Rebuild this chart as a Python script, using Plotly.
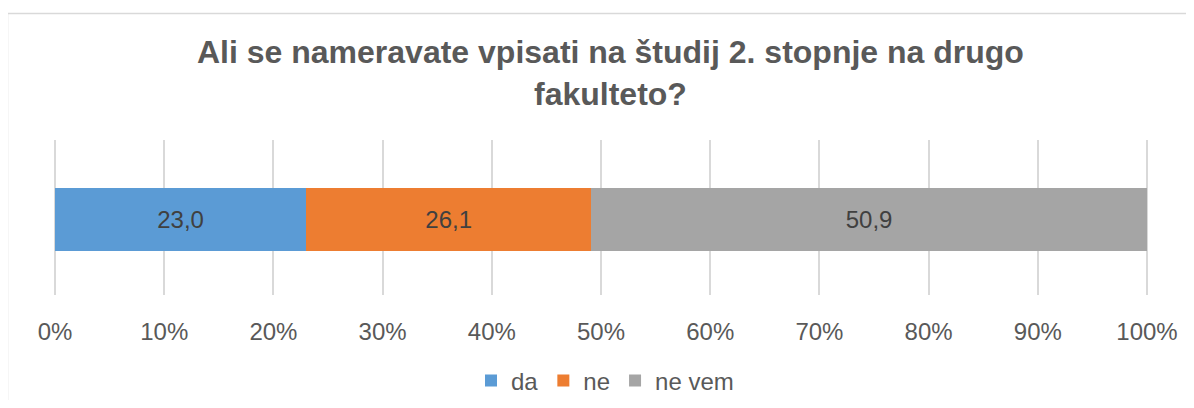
import plotly.graph_objects as go

categories = ["da", "ne", "ne vem"]
values = [23.0, 26.1, 50.9]
colors = ["#5B9BD5", "#ED7D31", "#A5A5A5"]
tick_vals = [0, 10, 20, 30, 40, 50, 60, 70, 80, 90, 100]
tick_text = [f"{v}%" for v in tick_vals]
title_text = "Ali se nameravate vpisati na študij 2. stopnje na drugo<br>fakulteto?"

# page has an 8px body margin; figure size chosen so it fits the 1194x408 window
OFF = 8
W, H = 1194 - 2 * OFF, 408 - 2 * OFF
ml, mr, mt, mb = 45, 37, 132, 105
pw, ph = W - ml - mr, H - mt - mb
scale = (1139 - 47) / 100.0
x_lo = -(47 - ml) / scale
x_hi = 100 + ((W - mr) - 1139) / scale

fig = go.Figure()
for cat, val, col in zip(categories, values, colors):
    fig.add_trace(go.Bar(
        y=[0], x=[val], name=cat, orientation="h",
        marker=dict(color=col, line=dict(width=0)),
        width=0.406,
        text=[f"{val:.1f}".replace(".", ",")],
        textposition="inside", insidetextanchor="middle",
        textangle=0,
        insidetextfont=dict(size=24, color="#404040", family="Liberation Sans, Arial, sans-serif"),
        hoverinfo="skip",
    ))

def px_x(px):
    return (px - OFF - ml) / pw

def px_y(py):
    return (H - mb - (py - OFF)) / ph

fig.update_layout(
    width=W, height=H,
    barmode="stack",
    margin=dict(l=ml, r=mr, t=mt, b=mb, pad=0, autoexpand=False),
    paper_bgcolor="white", plot_bgcolor="white",
    font=dict(family="Liberation Sans, Arial, sans-serif", color="#595959", size=24),
    xaxis=dict(range=[x_lo, x_hi], tickvals=tick_vals, ticktext=tick_text,
               showgrid=True, gridcolor="#D9D9D9", gridwidth=1.5,
               zeroline=False, showline=False, ticks="", ticklabelstandoff=20,
               tickfont=dict(size=24, color="#595959"), fixedrange=True),
    yaxis=dict(range=[-0.487, 0.513], visible=False, fixedrange=True),
    legend=dict(orientation="h", x=px_x(605), xanchor="center",
                y=px_y(381), yanchor="middle",
                font=dict(size=24, color="#595959"), traceorder="normal",
                itemwidth=30),
    showlegend=True,
    annotations=[dict(text="<b>" + title_text + "</b>", xref="paper", yref="paper",
                      x=px_x(610), y=px_y(32), xanchor="center", yanchor="top",
                      showarrow=False, align="center",
                      font=dict(size=32, color="#595959"))],
    shapes=[dict(type="rect", xref="paper", yref="paper",
                 x0=px_x(7.5), x1=px_x(1230), y0=px_y(440), y1=px_y(13.5),
                 line=dict(color="#D9D9D9", width=1.5), layer="below")],
)

fig.write_html("out.html")
